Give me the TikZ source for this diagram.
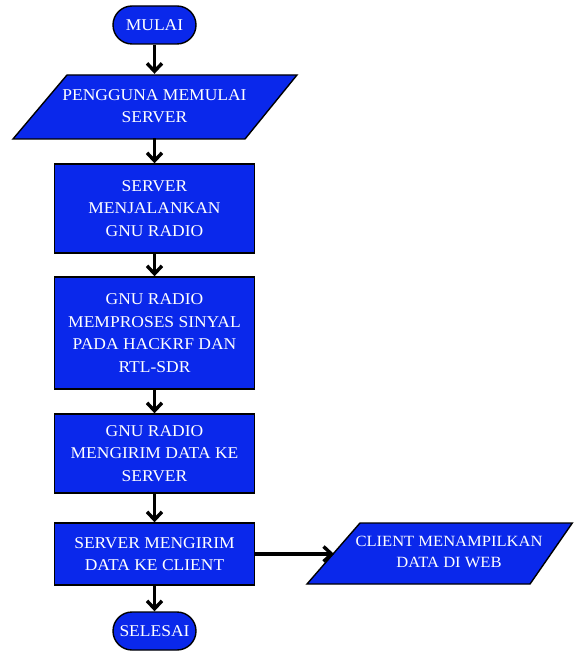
\documentclass[tikz,border=0pt]{standalone}
\usepackage{fontspec}
\setmainfont{Liberation Serif}[FakeStretch=1.06]
\usetikzlibrary{arrows.meta}
\definecolor{boxblue}{RGB}{10,40,235}
\begin{document}
\begin{tikzpicture}[x=1pt,y=-1pt,
  shapeline/.style={draw=black, line width=1.4pt, fill=boxblue},
  txt/.style={text=white, align=center, font=\fontsize{16.5}{22.5}\selectfont, inner sep=0pt},
  term/.style={shapeline, txt, rounded corners=19pt, minimum width=83pt, minimum height=38pt},
  procbox/.style={shapeline, txt, minimum width=200pt},
  flow/.style={line width=3.4pt, -{Straight Barb[length=8pt,width=15pt]}}
]
\useasboundingbox (0,0) rectangle (573,652);

% start
\node[term] (start) at (154.5,25) {MULAI};

% input parallelogram
\draw[shapeline] (67,75) -- (297,75) -- (245,139) -- (13,139) -- cycle;
\node[txt, minimum height=64pt] (p1) at (154.5,106) {PENGGUNA MEMULAI\\SERVER};

% process boxes
\node[procbox, minimum height=89pt] (r1) at (154.5,208.5) {SERVER\\MENJALANKAN\\GNU RADIO};
\node[procbox, minimum height=112pt] (r2) at (154.5,333) {GNU RADIO\\MEMPROSES SINYAL\\PADA HACKRF DAN\\RTL-SDR};
\node[procbox, minimum height=79pt] (r3) at (154.5,453.5) {GNU RADIO\\MENGIRIM DATA KE\\SERVER};
\node[procbox, minimum height=62pt] (r4) at (154.5,554) {SERVER MENGIRIM\\DATA KE CLIENT};

% end
\node[term] (stop) at (154.5,631) {SELESAI};

% output parallelogram
\draw[shapeline] (360,523) -- (572.3,523) -- (530,584) -- (307,584) -- cycle;
\node[txt, minimum height=61pt, font=\fontsize{15.6}{21}\selectfont] (cl) at (449,552) {CLIENT MENAMPILKAN\\DATA DI WEB};
\coordinate (clin) at (334,554);

% connectors
\draw[flow] (start.south) -- (p1.north);
\draw[flow] (p1.south) -- (r1.north);
\draw[flow] (r1.south) -- (r2.north);
\draw[flow] (r2.south) -- (r3.north);
\draw[flow] (r3.south) -- (r4.north);
\draw[flow] (r4.south) -- (stop.north);
\draw[flow] (r4.east) -- (clin);
\end{tikzpicture}
\end{document}
